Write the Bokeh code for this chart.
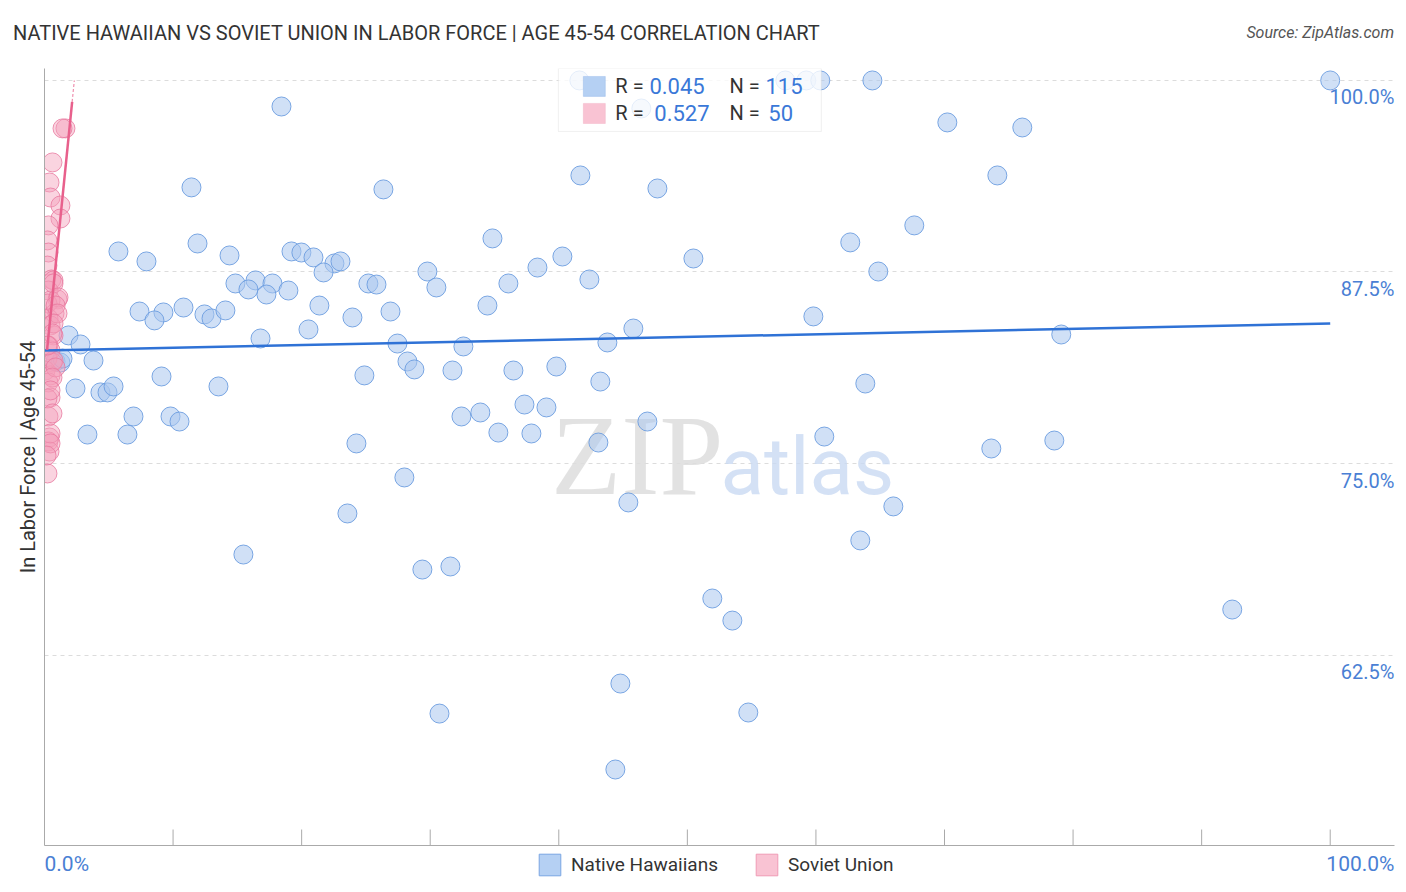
import math
from bokeh.plotting import figure
from bokeh.layouts import column
from bokeh.models import (Range1d, FixedTicker, Legend, LegendItem, Label, BoxAnnotation, Div)
from bokeh.core.properties import value
from bokeh.embed import file_html
from bokeh.resources import INLINE

# ---------------- data ----------------
nh_x = [41.60, 46.42, 57.62, 59.25, 60.34, 64.39, 100.0, 18.43, 70.22, 76.05,
        11.43, 26.36, 41.68, 47.67, 74.11, 67.65, 62.67, 34.84, 11.90, 5.75,
        7.93, 14.39, 19.21, 19.98, 20.92, 22.55, 23.02, 21.70, 29.78, 40.28,
        38.34, 50.47, 64.85, 14.85, 16.41, 17.73, 15.86, 17.26, 18.97, 25.19,
        25.82, 30.48, 36.08, 42.38, 7.39, 9.25, 8.55, 10.81, 12.44, 12.99,
        14.07, 21.38, 26.91, 23.95, 34.45, 20.53, 16.80, 59.80, 45.80, 43.78,
        27.45, 32.58, 79.08, 1.87, 2.80, 0.86, 1.24, 1.40, 3.81, 2.41,
        4.35, 4.90, 5.37, 3.34, 6.45, 9.10, 13.53, 6.92, 9.80, 10.50,
        24.88, 28.23, 28.77, 31.73, 36.47, 39.81, 43.23, 63.84, 37.33, 39.04,
        32.43, 33.90, 35.30, 37.87, 46.89, 60.65, 24.26, 43.08, 73.64, 78.54,
        27.99, 45.41, 66.02, 23.56, 63.45, 15.47, 29.39, 31.57, 51.94, 53.50,
        92.38, 44.79, 30.72, 54.74, 44.40]
nh_y = [100.0, 98.17, 100.0, 100.0, 100.0, 100.0, 100.0, 98.30, 97.26, 96.93,
        93.02, 92.89, 93.80, 92.95, 93.80, 90.54, 89.43, 89.69, 89.36, 88.84,
        88.19, 88.58, 88.84, 88.77, 88.45, 88.06, 88.19, 87.47, 87.53, 88.51,
        87.79, 88.38, 87.53, 86.75, 86.95, 86.75, 86.36, 86.03, 86.29, 86.75,
        86.68, 86.49, 86.75, 87.01, 84.92, 84.86, 84.34, 85.18, 84.73, 84.47,
        84.99, 85.31, 84.92, 84.53, 85.31, 83.75, 83.16, 84.60, 83.81, 82.90,
        82.83, 82.64, 83.42, 83.36, 82.77, 81.66, 81.59, 81.85, 81.72, 79.90,
        79.64, 79.64, 80.03, 76.89, 76.89, 80.68, 80.03, 78.07, 78.07, 77.74,
        80.75, 81.66, 81.14, 81.07, 81.07, 81.33, 80.35, 80.22, 78.85, 78.66,
        78.07, 78.33, 77.02, 76.96, 77.74, 76.76, 76.31, 76.37, 75.98, 76.50,
        74.09, 72.46, 72.20, 71.74, 69.98, 69.06, 68.08, 68.28, 66.19, 64.75,
        65.47, 60.64, 58.68, 58.75, 55.03]

su_x = [1.63, 1.40, 0.62, 0.39, 0.47, 1.24, 1.24, 0.31, 0.23, 0.31,
        0.23, 0.54, 0.70, 0.31, 1.01, 0.47, 0.23, 0.78, 0.31, 0.47,
        0.70, 0.31, 0.47, 0.23, 0.62, 0.08, 0.47, 0.31, 0.47, 0.23,
        0.31, 0.39, 0.31, 0.39, 0.23, 0.70, 1.09, 0.86, 1.01, 0.70,
        0.62, 0.70, 0.86, 0.62, 0.47, 0.62, 0.47, 0.47, 0.16, 0.23]
su_y = [96.87, 96.87, 94.65, 93.34, 92.36, 91.84, 90.99, 90.54, 89.56, 88.77,
        87.92, 87.01, 86.95, 86.29, 85.71, 85.64, 85.44, 84.79, 84.47, 84.01,
        83.36, 82.70, 82.38, 81.85, 81.59, 81.07, 80.75, 80.29, 79.31, 79.24,
        78.07, 76.70, 76.44, 75.78, 74.35, 86.75, 85.84, 85.31, 84.79, 84.14,
        83.49, 81.72, 81.27, 80.61, 79.77, 78.27, 76.96, 76.31, 75.52, 82.70]

nh_trend_x = [0.0, 100.0]
nh_trend_y = [82.38, 84.14]
su_trend_x = [0.2, 2.15]
su_trend_y = [82.41, 98.6]
su_ext_x = [2.15, 2.32]
su_ext_y = [98.6, 100.0]

y_ticks = [62.5, 75.0, 87.5, 100.0]
y_tick_labels = ["62.5%", "75.0%", "87.5%", "100.0%"]
x_ticks = [0, 10, 20, 30, 40, 50, 60, 70, 80, 90, 100]
x_end_labels = ["0.0%", "100.0%"]

series_names = ["Native Hawaiians", "Soviet Union"]
r_values = ["0.045", "0.527"]
n_values = ["115", "50"]

title_text = "NATIVE HAWAIIAN VS SOVIET UNION IN LABOR FORCE | AGE 45-54 CORRELATION CHART"
source_text = "Source: ZipAtlas.com"
y_label = "In Labor Force | Age 45-54"

# ---------------- style ----------------
BLUE_FILL = "#a9c7ef"
BLUE_LINE = "#6d9de0"
PINK_FILL = "#f4a0bb"
PINK_LINE = "#e97aa0"
BLUE_TREND = "#2f72d6"
PINK_TREND = "#e8608c"
TICK_BLUE = "#4a7fd4"
LEG_BLUE_FILL, LEG_BLUE_LINE = "#b5d0f3", "#7aa6e3"
LEG_PINK_FILL, LEG_PINK_LINE = "#f9c3d3", "#ef9bb5"
FONT = "Roboto"

W = 1400
X_MIN, X_MAX = 0.0, 105.0
Y_MIN, Y_MAX = 50.07, 100.78


def bare(fig):
    fig.outline_line_color = None
    fig.background_fill_color = "white"
    fig.border_fill_color = "white"
    fig.xaxis.visible = False
    fig.yaxis.visible = False
    fig.xgrid.visible = False
    fig.ygrid.visible = False


# ---------------- header ----------------
header_html = (
    '<div style="position:relative;width:%dpx;height:68px;font-family:Roboto,sans-serif;">'
    '<span style="position:absolute;left:13px;top:21px;line-height:24px;font-size:20px;'
    'color:#333333;white-space:nowrap;">%s</span>'
    '<span style="position:absolute;right:6px;top:23px;line-height:20px;font-size:16px;'
    'font-style:italic;color:#555555;white-space:nowrap;">%s</span>'
    '</div>' % (W, title_text, source_text)
)
header = Div(text=header_html, width=W, height=68, margin=(0, 0, 0, 0))

# ---------------- main plot ----------------
p = figure(width=W, height=782, output_backend="svg", toolbar_location=None,
           x_range=Range1d(X_MIN, X_MAX), y_range=Range1d(Y_MIN, Y_MAX),
           min_border_left=44, min_border_right=6, min_border_top=0, min_border_bottom=5)
p.outline_line_color = None
p.background_fill_color = "white"
p.border_fill_color = "white"

p.xgrid.visible = False
p.ygrid.ticker = FixedTicker(ticks=y_ticks)
p.ygrid.grid_line_color = "#dcdcdc"
p.ygrid.grid_line_dash = "4 4"
p.ygrid.grid_line_width = 1

yax = p.yaxis[0]
yax.ticker = FixedTicker(ticks=[], minor_ticks=[])
yax.major_label_standoff = 0
yax.axis_line_color = "#aaaaaa"
yax.axis_label = y_label
yax.axis_label_text_font = FONT
yax.axis_label_text_font_style = "normal"
yax.axis_label_text_font_size = "20px"
yax.axis_label_text_color = "#333333"
yax.axis_label_standoff = 5

xax = p.xaxis[0]
xax.ticker = FixedTicker(ticks=[], minor_ticks=[])
xax.major_label_standoff = 0
xax.axis_line_color = "#aaaaaa"

# tick marks pointing into the plot
p.ray(x=x_ticks, y=[Y_MIN] * len(x_ticks), length=16, length_units="screen",
      angle=math.pi / 2, line_color="#aaaaaa", line_width=1)

# watermark
p.text(x=[39.4], y=[75.52], text=["ZIP"], text_font=value("Liberation Serif"),
       text_font_size="115px", text_color="#dddddd", text_alpha=0.85,
       text_baseline="middle", text_align="left")
p.text(x=[52.57], y=[74.74], text=["atlas"], text_font=value(FONT),
       text_font_size="80px", text_color="#c9daf2", text_alpha=0.8,
       text_baseline="middle", text_align="left")

# y tick labels inside right
p.text(x=[X_MAX] * len(y_ticks), y=y_ticks, text=y_tick_labels, text_font=value(FONT),
       text_font_size="20px", text_color=TICK_BLUE, text_align="right",
       text_baseline="middle", y_offset=17)

# scatter
p.scatter(nh_x, nh_y, size=19, fill_color=BLUE_FILL, fill_alpha=0.55,
          line_color=BLUE_LINE, line_width=1, line_alpha=0.9)
p.scatter(su_x, su_y, size=19, fill_color=PINK_FILL, fill_alpha=0.45,
          line_color=PINK_LINE, line_width=1, line_alpha=0.8)

# trend lines
p.line(nh_trend_x, nh_trend_y, line_color=BLUE_TREND, line_width=2.5)
p.line(su_trend_x, su_trend_y, line_color=PINK_TREND, line_width=2.5)
p.line(su_ext_x, su_ext_y, line_color=PINK_TREND, line_width=1.2, line_dash="3 2", line_alpha=0.7)

# stats box
p.add_layout(BoxAnnotation(left=39.97, right=60.42, bottom=96.67, top=Y_MAX,
                           fill_color="white", fill_alpha=0.8,
                           line_color="#cccccc", line_width=1))
p.add_layout(BoxAnnotation(left=41.91, right=43.62, bottom=98.96, top=100.26,
                           fill_color=LEG_BLUE_FILL, fill_alpha=1, line_color=LEG_BLUE_LINE, line_width=1))
p.add_layout(BoxAnnotation(left=41.91, right=43.62, bottom=97.19, top=98.50,
                           fill_color=LEG_PINK_FILL, fill_alpha=1, line_color=LEG_PINK_LINE, line_width=1))
row_y = [99.61, 97.85]
r_x = [47.05, 47.43]
n_x = [56.07, 56.30]
for i in range(2):
    p.add_layout(Label(x=44.40, y=row_y[i], text="R =", text_font=FONT, text_font_size="20px",
                       text_color="#333333", text_baseline="middle"))
    p.add_layout(Label(x=r_x[i], y=row_y[i], text=r_values[i], text_font=FONT, text_font_size="22px",
                       text_color="#3a78d8", text_baseline="middle"))
    p.add_layout(Label(x=53.27, y=row_y[i], text="N =", text_font=FONT, text_font_size="20px",
                       text_color="#333333", text_baseline="middle"))
    p.add_layout(Label(x=n_x[i], y=row_y[i], text=n_values[i], text_font=FONT, text_font_size="22px",
                       text_color="#3a78d8", text_baseline="middle"))

# ---------------- footer (x end labels + legend) ----------------
bot = figure(width=W, height=34, output_backend="svg", toolbar_location=None,
             x_range=p.x_range, y_range=Range1d(0, 34),
             min_border_left=44, min_border_right=6, min_border_top=0, min_border_bottom=0)
bare(bot)
bot.text(x=[X_MIN, X_MAX], y=[21, 21], text=x_end_labels, text_font=value(FONT),
         text_font_size="21px", text_color=TICK_BLUE, text_baseline="middle",
         text_align=["left", "right"])
# legend swatches: placeholder quads lying outside the visible footer range
lg_blue = bot.quad(left=[-5], right=[-4], bottom=[-5], top=[-4], fill_color=LEG_BLUE_FILL,
                   line_color=LEG_BLUE_LINE, line_width=1)
lg_pink = bot.quad(left=[-5], right=[-4], bottom=[-5], top=[-4], fill_color=LEG_PINK_FILL,
                   line_color=LEG_PINK_LINE, line_width=1)
legend = Legend(items=[LegendItem(label=series_names[0], renderers=[lg_blue]),
                       LegendItem(label=series_names[1], renderers=[lg_pink])],
                orientation="horizontal", location=(492, 6),
                glyph_width=27, glyph_height=27, label_standoff=8, spacing=35,
                padding=0, margin=0, border_line_color=None, background_fill_alpha=0,
                label_text_font=FONT, label_text_font_size="19px", label_text_color="#333333",
                label_height=27)
bot.add_layout(legend, "center")

layout = column(header, p, bot, spacing=0)
open("out.html", "w").write(file_html(layout, INLINE))
